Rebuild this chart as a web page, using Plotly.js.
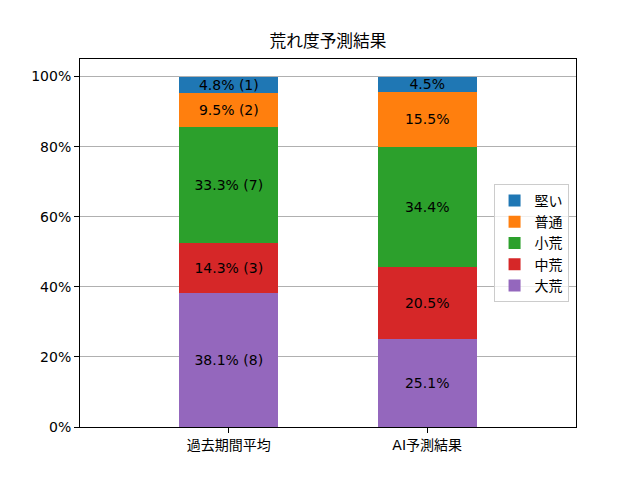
<!DOCTYPE html>
<html>
<head>
<meta charset="utf-8">
<script src="https://cdn.plot.ly/plotly-3.0.1.min.js"></script>
<style>
  body { margin: 0; }
  #chart { width: 640px; height: 480px; }
</style>
</head>
<body>
<div id="chart"></div>
<script>
// categories on the x axis
var groups = ['過去期間平均', 'AI予測結果'];
// stack order from bottom to top
var levels = ['大荒', '中荒', '小荒', '普通', '堅い'];
var colors = ['#9467bd', '#d62728', '#2ca02c', '#ff7f0e', '#1f77b4'];

// percentages per level: [past, AI]
var pctPast = [38.1, 14.3, 33.3, 9.5, 4.8];
var pctAI   = [25.1, 20.5, 34.4, 15.5, 4.5];
// race counts for the past period
var countPast = [8, 3, 7, 2, 1];

var font = 'DejaVu Sans, Noto Sans CJK JP, sans-serif';
var traces = [];

levels.forEach(function (lvl, i) {
  traces.push({
    type: 'bar',
    name: lvl,
    x: [0, 1],
    y: [pctPast[i], pctAI[i]],
    width: 0.5,
    marker: {color: colors[i], line: {width: 0}},
    text: [pctPast[i].toFixed(1) + '% (' + countPast[i] + ')', pctAI[i].toFixed(1) + '%'],
    textposition: 'inside',
    insidetextanchor: 'middle',
    textangle: 0,
    textfont: {color: '#000000', size: 14, family: font},
    hoverinfo: 'name+y'
  });
});

var layout = {
  width: 640,
  height: 480,
  barmode: 'stack',
  font: {family: font, size: 14, color: '#000000'},
  paper_bgcolor: '#ffffff',
  plot_bgcolor: '#ffffff',
  margin: {l: 80, r: 64, t: 59, b: 53, pad: 0},
  uniformtext: {mode: 'show', minsize: 14},
  title: {
    text: '荒れ度予測結果',
    font: {size: 16.7, family: font, color: '#000000'},
    x: 0.5,
    xref: 'paper',
    y: 1,
    yref: 'container',
    yanchor: 'top',
    pad: {t: 35}
  },
  xaxis: {
    range: [-0.75, 1.75],
    tickvals: [0, 1],
    ticktext: groups,
    showgrid: false,
    zeroline: false,
    showline: true,
    mirror: true,
    linecolor: '#000000',
    linewidth: 1,
    ticks: 'outside',
    ticklen: 5,
    tickcolor: '#000000',
    fixedrange: true
  },
  yaxis: {
    range: [0, 105],
    tickvals: [0, 20, 40, 60, 80, 100],
    ticktext: ['0%', '20%', '40%', '60%', '80%', '100%'],
    showgrid: true,
    gridcolor: '#b0b0b0',
    gridwidth: 1,
    zeroline: false,
    showline: true,
    mirror: true,
    linecolor: '#000000',
    linewidth: 1,
    ticks: 'outside',
    ticklen: 5,
    tickcolor: '#000000',
    fixedrange: true
  },
  showlegend: true,
  legend: {
    traceorder: 'reversed',
    x: 0.985,
    xanchor: 'right',
    y: 0.5,
    yanchor: 'middle',
    bgcolor: 'rgba(255,255,255,0.8)',
    bordercolor: '#cccccc',
    borderwidth: 1,
    font: {size: 14, family: font}
  }
};

Plotly.newPlot('chart', traces, layout, {staticPlot: true});
</script>
</body>
</html>
